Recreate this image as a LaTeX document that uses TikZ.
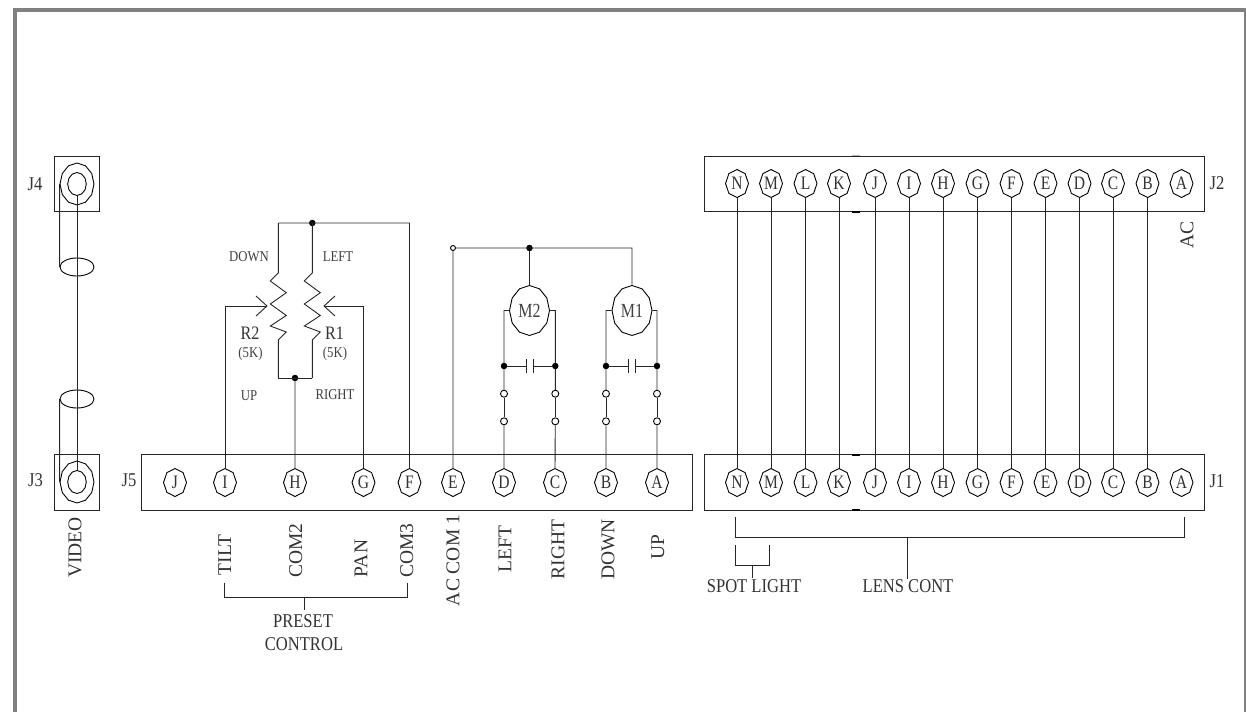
\documentclass[tikz,border=0pt]{standalone}
\usepackage{fontspec}
\usepackage{graphicx}
\setmainfont{Liberation Serif}
\usetikzlibrary{shapes.geometric,calc,arrows.meta}
\newcommand\nt[1]{\scalebox{.85}[1]{#1}}
\tikzset{
  x=1pt,y=-1pt,
  every path/.append style={line width=.9pt},
  wire/.style={draw=black!85},
  boxr/.style={draw=black!85,fill=none},
  pinn/.style={regular polygon,regular polygon sides=8,shape border rotate=22.5,draw=black,minimum size=28pt,inner sep=0pt,transform shape,xscale=.82,font=\fontsize{19}{19}\selectfont,text=black!80},
  ring/.style={regular polygon,regular polygon sides=12,shape border rotate=15,draw=black,inner sep=0pt,transform shape,xscale=.81},
  motor/.style={regular polygon,regular polygon sides=12,shape border rotate=15,draw=black,minimum size=50pt,inner sep=0pt,transform shape,xscale=.8,font=\fontsize{20}{20}\selectfont,text=black!75},
  sheath/.style={ellipse,draw=black,minimum width=34pt,minimum height=18pt,inner sep=0pt},
  dotn/.style={circle,fill=black,draw=black,minimum size=5.5pt,inner sep=0pt},
  opn/.style={circle,fill=white,draw=black,minimum size=7pt,inner sep=0pt},
  opsmall/.style={circle,fill=white,draw=black,minimum size=5pt,inner sep=0pt},
  lbl/.style={font=\fontsize{19.5}{19.5}\selectfont,text=black!80,inner sep=0pt},
  slbl/.style={font=\fontsize{15}{15}\selectfont,text=black!75,inner sep=0pt},
  rlbl/.style={lbl,rotate=90},
}
\begin{document}
\begin{tikzpicture}
\useasboundingbox (0,0) rectangle (1246,712);
% frame
\draw[line width=4pt,draw=black!50] (15.3,712) -- (15.3,10) -- (1246,10) -- (1246,712);
% J4 / J3 connectors
\node[boxr,minimum width=45.5pt,minimum height=55.7pt,inner sep=0pt] (J4box) at (76.75,184) {};
\node[boxr,minimum width=45.5pt,minimum height=55.7pt,inner sep=0pt] (J3box) at (76.75,482.5) {};
\node[ring,minimum size=42pt] (J4o) at (77,184) {};
\node[ring,minimum size=23pt] (J4i) at (77,184) {};
\node[ring,minimum size=42pt] (J3o) at (77,482) {};
\node[ring,minimum size=23pt] (J3i) at (77,482) {};
\node[sheath] (ca) at (77,267) {};
\node[sheath] (cb) at (77,399) {};
\draw[wire] (J4i.south) -- (J3i.north);
\draw[wire] (J4o.west) -- (ca.west);
\draw[wire] (cb.west) -- (J3o.west);
\node[lbl] (lJ4) at (35,184) {\nt{J4}};
\node[lbl] (lJ3) at (35.5,480) {\nt{J3}};
\node[lbl] (lJ5) at (129,480) {\nt{J5}};
\node[rlbl] (lvid) at (75,547.5) {VIDEO};
% J5
\node[boxr,minimum width=551pt,minimum height=55.3pt,inner sep=0pt] (J5box) at (416.5,482.5) {};
\foreach \n/\x in {J/175,I/225,H/295,G/363.5,F/409.5,E/453,D/504,C/555,B/606,A/657}{
  \node[pinn] (p\n) at (\x,482.5) {\n};
}
% J5 labels
\node[rlbl] (lt) at (224.7,555) {TILT};
\node[rlbl] (lc2) at (295.7,550.5) {COM2};
\node[rlbl] (lp) at (361,558.5) {PAN};
\node[rlbl] (lc3) at (406.7,550.5) {COM3};
\node[rlbl] (lac) at (453,560.5) {AC COM 1};
\node[rlbl] (ll) at (505,549) {LEFT};
\node[rlbl] (lr) at (558,549.5) {RIGHT};
\node[rlbl] (ld) at (608,549.5) {DOWN};
\node[rlbl] (lu) at (657.7,547.5) {UP};
% preset bracket
\coordinate (pa) at (224,582.7);
\coordinate (pb) at (407.5,582.7);
\coordinate (pc) at (304,597);
\node[lbl] (preset) at (303,621) {\nt{PRESET}};
\node[lbl] (control) at (304,644) {\nt{CONTROL}};
\draw[wire] (pa) |- (pc) -| (pb);
\coordinate (pd) at (304,610);
\draw[wire] (pc) -- (pd);
% potentiometers
\coordinate (r2t) at (278.3,223);
\coordinate (r1t) at (312.3,223);
\coordinate (r2b) at (278.3,378);
\coordinate (r1b) at (312.3,378);
\coordinate (r2a) at (267,306);
\coordinate (r1a) at (324,306);
\coordinate (fcor) at (409.5,223);
\node[dotn] (dtop) at (312.3,223) {};
\node[dotn] (dbot) at (295,378) {};
\draw[wire] (r2t) -- (fcor) -- (pF.north);
\foreach \o/\nm in {0/r2,34/r1}{
  \draw[wire,line join=miter] (\nm t) -- (278.3+\o,273) -- (270.3+\o,281) -- (286.3+\o,292.7) -- (270.3+\o,304) -- (286.3+\o,315.5) -- (270.3+\o,326) -- (286.3+\o,332) -- (278.3+\o,340) -- (\nm b);
}
\draw[wire] (r2b) -- (r1b);
\draw[wire] (dbot) -- (pH.north);
\draw[wire] (pI.north) |- (r2a);
\draw[wire] (pG.north) |- (r1a);
\draw[wire] (256,296) -- (r2a) -- (256,316);
\draw[wire] (335,296) -- (r1a) -- (335,316);
\node[slbl] (ldown) at (249,257) {\nt{DOWN}};
\node[slbl] (lleft) at (338,257) {\nt{LEFT}};
\node[slbl] (lup) at (249,396) {\nt{UP}};
\node[slbl] (lright) at (335,395) {\nt{RIGHT}};
\node[lbl,font=\fontsize{19}{19}\selectfont] (lr2) at (250,333) {\nt{R2}};
\node[lbl,font=\fontsize{19}{19}\selectfont] (lr1) at (334.5,333) {\nt{R1}};
\node[slbl] (k2) at (250.5,354) {\nt{(5K)}};
\node[slbl] (k1) at (335,354) {\nt{(5K)}};
% motors
\node[opsmall] (ecom) at (453,248) {};
\node[dotn] (mj) at (529.5,248) {};
\node[motor] (M2) at (529.5,310.5) {M2};
\node[motor] (M1) at (632,310.5) {M1};
\coordinate (m1c) at (632,248);
\draw[wire] (ecom) -- (pE.north);
\draw[wire] (ecom) -- (m1c) -- (M1.north);
\draw[wire] (mj) -- (M2.north);
\foreach \m/\l/\r/\pa/\pb/\pl/\pr in {M2/D/C/526/533.5/504/555.3,M1/B/A/628.3/635.7/606/657}{
  \node[dotn] (\m dl) at (\pl,366) {};
  \node[dotn] (\m dr) at (\pr,366) {};
  \node[opn] (\m ol) at (\pl,393.7) {};
  \node[opn] (\m or) at (\pr,393.7) {};
  \node[opn] (\m ul) at (\pl,421.3) {};
  \node[opn] (\m ur) at (\pr,421.3) {};
  \coordinate (\m ca) at (\pa,366);
  \coordinate (\m cb) at (\pb,366);
  \draw[wire] (\m.west) -- (\pl,310.5) -- (\m dl) -- (\m ol);
  \draw[wire] (\m.east) -- (\pr,310.5) -- (\m dr) -- (\m or);
  \draw[wire] (\m ol) -- (\m ul);
  \draw[wire] (\m or) -- (\m ur);
  \draw[wire] (\m ul) -- (p\l.north);
  \draw[wire] (\m ur) -- (p\r.north);
  \draw[wire] (\m dl) -- (\m ca);
  \draw[wire] (\m dr) -- (\m cb);
  \draw[wire] (\pa,359.3) -- (\pa,372.7);
  \draw[wire] (\pb,359.3) -- (\pb,372.7);
}
% J2 / J1
\node[boxr,minimum width=500.3pt,minimum height=55.7pt,inner sep=0pt] (J2box) at (954.15,183.85) {};
\node[boxr,minimum width=500.3pt,minimum height=55.3pt,inner sep=0pt] (J1box) at (954.15,482.35) {};
\foreach \n/\x in {N/737,M/771,L/805.5,K/839,J/875,I/909,H/943,G/977.5,F/1011.5,E/1045.5,D/1079.5,C/1113,B/1147.5,A/1181.5}{
  \node[pinn] (u\n) at (\x,183.5) {\n};
  \node[pinn] (v\n) at (\x,482.5) {\n};
}
\foreach \n in {N,M,L,K,J,I,H,G,F,E,D,C,B}{
  \draw[wire] (u\n.south) -- (v\n.north);
}
\draw[line width=1.6pt,draw=black!30] (852,155.5) -- (860,155.5);
\draw[line width=1.6pt] (852,211.7) -- (860,211.7);
\draw[line width=1.6pt] (852,454.7) -- (860,454.7);
\draw[line width=1.6pt] (852,510) -- (860,510);
\node[lbl] (lJ2) at (1217,183) {\nt{J2}};
\node[lbl] (lJ1) at (1217,481) {\nt{J1}};
\node[rlbl] (lAC) at (1187,235) {AC};
% brackets
\coordinate (ba) at (735,517);
\coordinate (bb) at (1184,517);
\coordinate (bc) at (907,537.7);
\coordinate (bd) at (907,579);
\draw[wire] (ba) |- (bc) -| (bb);
\draw[wire] (bc) -- (bd);
\coordinate (sa) at (735,545);
\coordinate (sb) at (769,545);
\coordinate (sc) at (752,565.5);
\coordinate (sd) at (752,578);
\draw[wire] (sa) |- (sc) -| (sb);
\draw[wire] (sc) -- (sd);
\node[lbl] (spot) at (754,586) {\nt{SPOT LIGHT}};
\node[lbl] (lens) at (908,586) {\nt{LENS CONT}};
\end{tikzpicture}
\end{document}
